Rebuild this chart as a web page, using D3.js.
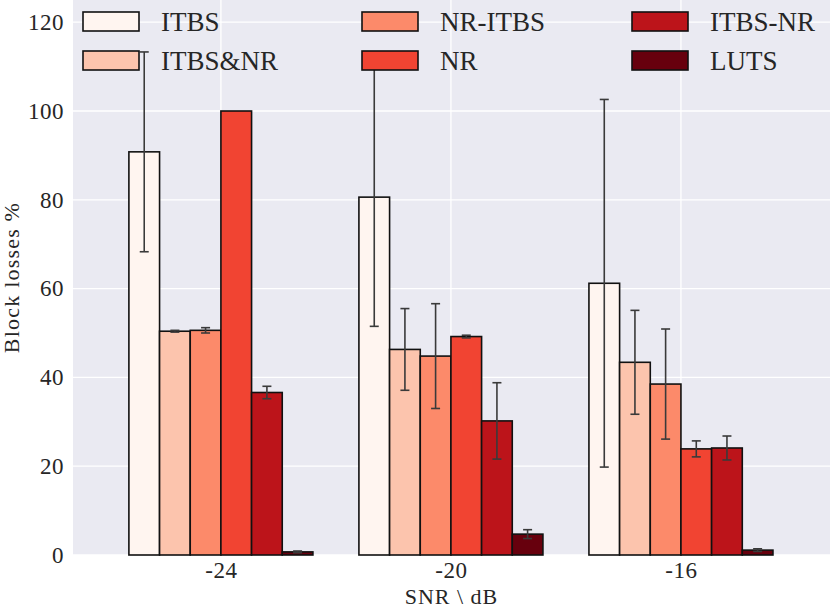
<!DOCTYPE html>
<html>
<head>
<meta charset="utf-8">
<script src="https://cdn.jsdelivr.net/npm/d3@7"></script>
<style>
  body { margin: 0; background: #fff; }
  svg text { font-family: "Times New Roman", "Liberation Serif", Tinos, Times, serif; fill: #262626; }
</style>
</head>
<body>
<svg id="chart" width="830" height="608"></svg>
<script>
"use strict";
// categories on the x axis
const snrLabels = ["-24", "-20", "-16"];
const seriesNames = ["ITBS", "ITBS&NR", "NR-ITBS", "NR", "ITBS-NR", "LUTS"];
const seriesColors = ["#fff5f0", "#fcc4ad", "#fc8a6a", "#f14432", "#bc141a", "#67000d"];
// mean block loss per series, one value per SNR
const itbs    = [90.8, 80.6, 61.2];
const itbsNr  = [50.4, 46.3, 43.4];
const nrItbs  = [50.6, 44.8, 38.5];
const nr      = [100.0, 49.2, 23.9];
const itbsDNr = [36.6, 30.2, 24.1];
const luts    = [0.7, 4.7, 1.1];
// error (half length of bar)
const itbsErr    = [22.5, 29.1, 41.4];
const itbsNrErr  = [0.2, 9.2, 11.7];
const nrItbsErr  = [0.6, 11.8, 12.4];
const nrErr      = [0.0, 0.3, 1.8];
const itbsDNrErr = [1.4, 8.6, 2.7];
const lutsErr    = [0.2, 1.0, 0.3];
const yTicks = [0, 20, 40, 60, 80, 100, 120];

const values = [itbs, itbsNr, nrItbs, nr, itbsDNr, luts];
const errors = [itbsErr, itbsNrErr, nrItbsErr, nrErr, itbsDNrErr, lutsErr];

const margin = { top: 0, right: 0, bottom: 53, left: 73 };
const svg = d3.select("#chart");
const W = +svg.attr("width"), H = +svg.attr("height");
const plotW = W - margin.left - margin.right;
const plotH = H - margin.top - margin.bottom;

const x = d3.scaleLinear().domain([-0.643, 2.648]).range([0, plotW]);
const sub = d3.scaleBand().domain(seriesNames).range([-0.4, 0.4]);
const y = d3.scaleLinear().domain([0, 125]).range([plotH, 0]);

const g = svg.append("g").attr("transform", `translate(${margin.left},${margin.top})`);

// background
g.append("rect").attr("width", plotW).attr("height", plotH).style("fill", "#eaeaf2");

// grid
g.append("g").selectAll("line").data(yTicks).enter().append("line")
  .attr("x1", 0).attr("x2", plotW)
  .attr("y1", d => y(d)).attr("y2", d => y(d))
  .style("stroke", "#fff").style("stroke-width", 1.3);
g.append("g").selectAll("line").data(snrLabels.map((d, i) => i)).enter().append("line")
  .attr("x1", d => x(d)).attr("x2", d => x(d))
  .attr("y1", 0).attr("y2", plotH)
  .style("stroke", "#fff").style("stroke-width", 1.3);

// y axis
const yAxis = d3.axisLeft(y).tickValues(yTicks).tickSize(0).tickPadding(9);
g.append("g").call(yAxis)
  .call(a => a.select(".domain").remove())
  .selectAll("text").style("font-size", "23px").style("letter-spacing", "0.5px").attr("fill", "#262626");

// x axis
const xAxis = d3.axisBottom(x).tickValues([0, 1, 2]).tickFormat(i => snrLabels[i]).tickSize(0).tickPadding(7);
g.append("g").attr("transform", `translate(0,${plotH})`).call(xAxis)
  .call(a => a.select(".domain").remove())
  .selectAll("text").style("font-size", "23px").style("letter-spacing", "0.5px").attr("fill", "#262626");
g.selectAll("g[font-family]").attr("font-family", null).attr("font-size", null);

// bars
const barW = x(sub.bandwidth()) - x(0);
seriesNames.forEach((name, s) => {
  const grp = g.append("g").attr("class", "series");
  grp.selectAll("rect").data(values[s]).enter().append("rect")
    .attr("x", (d, i) => x(i + sub(name)))
    .attr("y", d => y(d))
    .attr("width", barW)
    .attr("height", d => y(0) - y(d))
    .style("fill", seriesColors[s])
    .style("stroke", "#111")
    .style("stroke-width", 1.6);
});

// error bars
seriesNames.forEach((name, s) => {
  const eg = g.append("g").attr("class", "err");
  values[s].forEach((v, i) => {
    const e = errors[s][i];
    if (e <= 0) return;
    const cx = x(i + sub(name)) + barW / 2;
    eg.append("line").attr("x1", cx).attr("x2", cx).attr("y1", y(v - e)).attr("y2", y(v + e));
    eg.append("line").attr("x1", cx - 4.5).attr("x2", cx + 4.5).attr("y1", y(v - e)).attr("y2", y(v - e));
    eg.append("line").attr("x1", cx - 4.5).attr("x2", cx + 4.5).attr("y1", y(v + e)).attr("y2", y(v + e));
  });
  eg.selectAll("line").style("stroke", "#3a3a3a").style("stroke-width", 1.6);
});

// legend, 3 columns x 2 rows
const legCols = [10, 289, 559];
const legRows = [12, 51];
const leg = g.append("g").attr("class", "legend");
seriesNames.forEach((name, s) => {
  const col = Math.floor(s / 2), row = s % 2;
  const lx = legCols[col], ly = legRows[row];
  leg.append("rect")
    .attr("x", lx).attr("y", ly).attr("width", 56).attr("height", 19)
    .style("fill", seriesColors[s]).style("stroke", "#111").style("stroke-width", 1.6);
  leg.append("text")
    .attr("x", lx + 78).attr("y", ly + 19)
    .style("font-size", "27px")
    .text(name);
});

// axis labels
svg.append("text")
  .attr("transform", `translate(${margin.left + plotW / 2},${H - 4})`)
  .attr("text-anchor", "middle")
  .style("font-size", "22px")
  .style("letter-spacing", "1px")
  .text("SNR \\ dB");
svg.append("text")
  .attr("transform", `translate(19,${margin.top + plotH / 2}) rotate(-90)`)
  .attr("text-anchor", "middle")
  .style("font-size", "22px")
  .style("letter-spacing", "1.2px")
  .text("Block losses %");
</script>
</body>
</html>
